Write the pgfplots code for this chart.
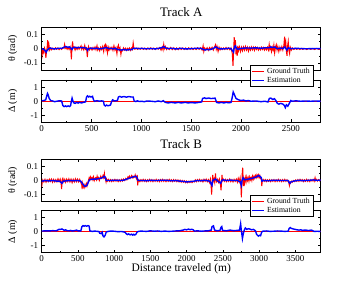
\documentclass[border=0pt]{standalone}
\usepackage{fontspec}
\setmainfont{Liberation Serif}
\usepackage{pgfplots}
\pgfplotsset{compat=1.18}

\pgfplotsset{
  panel/.style={
    scale only axis, width=279bp,
    xmin=0, ymin=-0.15, ymax=0.15,
    tick pos=both, tick align=inside,
    major tick length=3bp, minor tick length=1.6bp,
    minor x tick num=1, minor y tick num=1,
    axis line style={line width=0.6bp},
    every tick/.style={line width=0.5bp, black},
    tick label style={font=\fontsize{9}{10}\selectfont},
    /pgf/number format/assume math mode=true,
    /pgf/number format/set thousands separator={},
    label style={font=\fontsize{10}{11}\selectfont},
    ylabel style={at={(axis description cs:-0.104,0.5)}, anchor=center},
    title style={font=\fontsize{13}{14}\selectfont, at={(axis description cs:0.5,1)}, anchor=base, yshift=5bp},
    legend style={at={(0.974,0.12)}, anchor=north east, font=\fontsize{7.8}{8.5}\selectfont,
      draw=black, line width=0.5bp, inner xsep=1.5bp, inner ysep=0.5bp, row sep=-1.5bp,
      cells={anchor=west}, fill=white},
    legend image code/.code={\draw[#1, line width=1.1bp] (0bp,0bp) -- (12bp,0bp);},
  },
  thetapanel/.style={panel, ymin=-0.15, ymax=0.15, ytick={-0.1,0,0.1}, yticklabels={-0.1,0,0.1}, xticklabels={}, ylabel={θ (rad)}},
  deltapanel/.style={panel, ymin=-1.5, ymax=1.5, ytick={-1,0,1}, yticklabels={-1,0,1}, ylabel={Δ (m)}},
  gt/.style={red, line width=1bp},
  est/.style={blue, line width=1.4bp},
}

\begin{document}
\begin{tikzpicture}
\path[use as bounding box] (0,0) rectangle (363bp,281bp);

% ---------------- Track A, Delta ----------------
\begin{axis}[deltapanel, at={(41.7bp,158.5bp)}, anchor=south west, height=42.5bp,
  xmax=2800, xtick={0,500,1000,1500,2000,2500}]
\addplot[gt] coordinates {(0,0) (2800,0)};
\addplot[est] coordinates {
(0,0.03) (20,0.05) (40,0.1) (50,0.35) (58,0.55) (65,0.45) (75,0.2) (90,0.05) (110,0.02) (130,-0.03) (150,0.0) (175,0.03) (200,0.02) (212,-0.3) (225,-0.38) (240,-0.33) (250,-0.38) (265,-0.33) (280,-0.37) (290,-0.3) (298,0.0) (305,0.22) (312,0.05) (320,-0.1) (335,-0.15) (350,-0.08) (365,-0.13) (380,-0.08) (400,-0.12) (420,-0.07) (440,-0.05) (450,0.3) (460,0.38) (470,0.3) (480,0.35) (495,0.3) (510,0.35) (520,0.1) (530,0.0) (555,0.04) (580,0.0) (600,0.03) (620,0.0) (628,-0.28) (640,-0.33) (650,-0.27) (665,-0.32) (690,-0.27) (700,-0.05) (712,0.1) (730,0.02) (760,0.05) (770,0.3) (785,0.34) (800,0.29) (825,0.33) (850,0.29) (875,0.33) (900,0.3) (918,0.3) (928,0.02) (945,-0.02) (960,0.03) (980,-0.02) (1000,0.0) (1030,-0.03) (1060,0.02) (1100,0.0) (1140,-0.03) (1170,0.02) (1200,-0.03) (1220,0.04) (1240,-0.08) (1270,-0.12) (1300,-0.08) (1340,-0.12) (1370,-0.08) (1400,-0.12) (1440,-0.08) (1470,-0.12) (1500,-0.09) (1540,-0.12) (1580,-0.08) (1605,-0.05) (1615,0.2) (1635,0.24) (1650,0.19) (1675,0.23) (1700,0.19) (1740,0.22) (1755,-0.08) (1780,-0.12) (1800,-0.08) (1830,-0.12) (1850,-0.08) (1880,-0.11) (1900,-0.08) (1910,0.2) (1922,0.65) (1935,0.45) (1950,0.2) (1975,0.1) (2000,0.05) (2025,0.08) (2050,0.02) (2075,0.05) (2100,0.0) (2150,0.02) (2200,-0.03) (2240,0.0) (2270,-0.05) (2285,0.2) (2300,0.22) (2320,0.12) (2335,0.18) (2350,0.05) (2365,-0.15) (2380,-0.2) (2400,-0.15) (2420,-0.2) (2435,-0.3) (2445,-0.45) (2455,-0.25) (2470,-0.35) (2485,-0.15) (2500,0.05) (2510,0.0) (2550,0.03) (2600,0.0) (2650,0.02) (2700,0.0) (2750,0.02) (2800,0.0)
};
\end{axis}

% ---------------- Track A, theta ----------------
\begin{axis}[thetapanel, at={(41.7bp,211bp)}, anchor=south west, height=42.7bp,
  xmax=2800, xtick={0,500,1000,1500,2000,2500}, title={Track A}]
\addplot[gt] coordinates {
(0,-0.005) (5,-0.04) (10,-0.01) (20,-0.03) (28,0.005) (35,-0.01) (42,-0.065) (48,-0.02) (55,0.01) (60,0.06) (66,0.005) (72,0.03) (80,-0.01) (90,0.005) (100,-0.008) (112,0.004) (125,-0.006) (138,0.006) (150,-0.004) (162,0.005) (175,-0.007) (188,0.003) (200,-0.005) (212,0.006) (222,0.004) (230,0.03) (236,0.002) (245,0.012) (255,-0.004) (265,0.01) (275,-0.006) (285,0.012) (292,-0.01) (298,-0.075) (304,0.01) (310,0.05) (316,0.005) (325,0.012) (335,-0.01) (345,0.008) (355,-0.006) (365,0.01) (375,-0.004) (385,0.008) (395,0.02) (402,-0.005) (412,0.01) (422,-0.008) (432,0.022) (440,-0.004) (450,0.005) (458,-0.06) (464,-0.01) (470,0.015) (480,-0.008) (492,0.006) (505,-0.01) (515,0.008) (525,-0.005) (535,0.012) (545,-0.008) (555,0.02) (562,-0.01) (572,0.005) (582,-0.015) (592,0.01) (602,-0.006) (612,0.015) (622,-0.02) (630,0.02) (638,0.03) (645,-0.005) (652,0.015) (660,-0.03) (668,0.01) (676,-0.01) (685,0.008) (695,-0.006) (705,0.01) (715,-0.012) (725,0.02) (735,-0.01) (745,0.008) (755,-0.035) (762,0.01) (770,0.025) (778,-0.01) (786,0.005) (795,-0.04) (802,-0.01) (810,-0.015) (820,0.005) (830,-0.01) (840,0.003) (850,-0.012) (860,0.002) (870,-0.01) (880,0.004) (890,-0.012) (900,0.005) (910,-0.006) (918,0.04) (925,0.005) (935,-0.004) (948,0.004) (960,-0.005) (975,0.004) (990,-0.004) (1005,0.005) (1020,-0.005) (1035,0.004) (1050,-0.006) (1065,0.005) (1080,-0.004) (1095,0.006) (1110,-0.005) (1125,0.004) (1140,-0.006) (1155,0.005) (1170,-0.004) (1185,0.008) (1198,-0.01) (1210,0.012) (1218,-0.008) (1225,0.03) (1232,0.0) (1242,0.015) (1252,-0.006) (1265,0.006) (1280,-0.006) (1295,0.008) (1310,-0.007) (1325,0.006) (1340,-0.008) (1355,0.005) (1370,-0.007) (1385,0.006) (1400,-0.006) (1415,0.005) (1430,-0.006) (1445,0.005) (1460,-0.006) (1475,0.006) (1490,-0.005) (1505,0.005) (1520,-0.006) (1535,0.004) (1550,-0.006) (1565,0.006) (1580,-0.005) (1595,0.006) (1610,-0.01) (1620,0.02) (1627,-0.02) (1635,0.005) (1648,-0.008) (1660,0.006) (1672,-0.012) (1685,0.008) (1698,-0.006) (1710,0.01) (1722,-0.01) (1735,0.012) (1745,0.028) (1752,-0.005) (1760,0.015) (1770,-0.02) (1780,0.01) (1790,-0.008) (1800,0.006) (1812,-0.006) (1825,0.005) (1838,-0.006) (1850,0.008) (1862,-0.005) (1875,0.006) (1888,-0.008) (1900,0.005) (1912,-0.03) (1920,-0.12) (1926,-0.02) (1932,0.08) (1938,0.01) (1944,0.06) (1950,-0.04) (1956,0.01) (1962,-0.05) (1968,0.02) (1975,-0.015) (1985,0.012) (1995,-0.02) (2005,0.01) (2015,-0.015) (2025,0.012) (2035,-0.01) (2045,0.015) (2055,-0.01) (2065,0.01) (2075,-0.018) (2085,0.008) (2095,-0.01) (2105,0.012) (2115,-0.008) (2125,0.01) (2135,-0.012) (2145,0.01) (2155,-0.006) (2165,0.008) (2175,-0.01) (2185,0.006) (2195,-0.008) (2205,0.01) (2215,-0.006) (2225,0.008) (2235,-0.01) (2245,0.006) (2255,-0.008) (2265,0.01) (2275,-0.01) (2283,0.03) (2290,-0.005) (2298,0.012) (2306,-0.02) (2314,0.01) (2322,-0.01) (2330,0.025) (2338,-0.03) (2346,0.01) (2354,0.028) (2362,-0.01) (2370,0.015) (2380,-0.02) (2390,0.01) (2400,-0.01) (2410,0.015) (2420,-0.01) (2430,0.02) (2438,0.085) (2444,0.01) (2450,0.04) (2456,-0.02) (2462,-0.05) (2468,0.02) (2474,0.05) (2480,-0.01) (2488,-0.035) (2495,0.01) (2505,-0.01) (2515,0.005) (2530,-0.006) (2545,0.003) (2560,-0.005) (2575,0.002) (2590,-0.006) (2605,0.002) (2620,-0.005) (2640,0.002) (2660,-0.006) (2680,0.002) (2700,-0.005) (2720,0.001) (2740,-0.006) (2760,0.002) (2780,-0.005) (2800,-0.003)
};
\addlegendentry{Ground Truth}
\addplot[est] coordinates {
(0,0.0) (20,-0.005) (35,-0.015) (45,-0.025) (55,-0.01) (70,0.0) (85,0.004) (100,0.002) (125,-0.002) (150,0.0) (175,0.003) (200,0.002) (225,0.01) (240,0.015) (260,0.01) (280,0.012) (295,0.002) (305,-0.005) (315,0.008) (340,0.01) (355,0.005) (370,0.009) (400,0.006) (430,0.008) (450,0.002) (460,-0.012) (470,0.0) (500,0.004) (525,0.0) (550,0.004) (575,-0.002) (600,0.0) (630,0.005) (650,0.008) (670,0.0) (700,0.002) (720,-0.002) (740,0.003) (760,-0.006) (780,-0.008) (800,-0.01) (825,-0.006) (850,-0.01) (875,-0.007) (900,-0.008) (920,0.002) (950,0.003) (975,0.0) (1000,0.002) (1050,-0.001) (1100,0.001) (1140,-0.002) (1180,0.003) (1210,0.008) (1225,0.015) (1240,0.006) (1270,0.0) (1300,0.003) (1350,-0.002) (1400,0.002) (1450,-0.002) (1500,0.0) (1550,0.002) (1600,0.002) (1625,-0.006) (1640,-0.01) (1660,-0.005) (1680,-0.008) (1720,0.0) (1745,0.012) (1760,0.008) (1775,0.0) (1800,-0.002) (1850,0.0) (1880,0.003) (1900,0.0) (1915,-0.015) (1925,-0.025) (1935,0.015) (1945,0.02) (1955,0.0) (1970,-0.004) (2000,0.002) (2050,0.005) (2100,0.004) (2150,0.006) (2200,0.003) (2240,0.006) (2280,0.006) (2300,0.012) (2320,0.008) (2340,0.012) (2360,0.0) (2400,0.004) (2420,0.0) (2440,0.012) (2460,-0.01) (2475,0.006) (2500,0.0) (2550,0.002) (2600,0.001) (2650,-0.001) (2700,0.0) (2750,0.001) (2800,0.0)
};
\addlegendentry{Estimation}
\end{axis}

% ---------------- Track B, Delta ----------------
\begin{axis}[deltapanel, at={(41.7bp,28.5bp)}, anchor=south west, height=42bp,
  xmax=3850, xtick={0,500,1000,1500,2000,2500,3000,3500},
  xlabel={Distance traveled (m)},
  xlabel style={font=\fontsize{11.5}{12}\selectfont, at={(axis description cs:0.5,0)}, anchor=base, yshift=-19bp}]
\addplot[gt] coordinates {(0,0) (3850,0)};
\addplot[est] coordinates {
(0,0.03) (50,0.05) (100,0.04) (150,0.06) (200,0.05) (220,0.1) (240,0.16) (260,0.15) (280,0.18) (300,0.12) (315,0.08) (330,0.12) (350,0.06) (380,0.05) (400,0.08) (420,0.04) (450,0.06) (480,0.1) (500,0.05) (540,0.05) (555,0.35) (570,0.42) (585,0.38) (600,0.42) (620,0.38) (640,0.42) (655,0.38) (665,0.05) (700,0.0) (725,0.03) (750,0.02) (790,0.0) (800,-0.12) (820,-0.15) (835,-0.05) (845,-0.3) (860,-0.38) (875,-0.28) (890,-0.05) (910,0.0) (950,0.03) (1000,0.02) (1050,-0.01) (1100,0.0) (1150,-0.05) (1170,-0.18) (1185,-0.22) (1200,-0.17) (1220,-0.24) (1240,-0.19) (1255,-0.26) (1270,-0.2) (1285,-0.25) (1300,-0.2) (1315,-0.05) (1330,0.0) (1365,0.03) (1400,0.02) (1450,0.01) (1500,0.05) (1550,0.02) (1600,0.04) (1650,0.01) (1700,0.03) (1750,0.01) (1800,0.02) (1850,0.04) (1900,0.05) (1950,0.1) (1975,0.15) (2000,0.12) (2025,0.17) (2050,0.13) (2070,0.16) (2090,0.12) (2110,0.03) (2150,0.05) (2200,0.02) (2250,0.04) (2300,0.05) (2340,0.1) (2350,0.35) (2370,0.4) (2385,0.1) (2420,0.05) (2460,0.08) (2475,0.3) (2485,0.35) (2495,0.08) (2550,0.05) (2575,0.08) (2600,0.1) (2650,0.06) (2700,0.08) (2730,0.1) (2745,0.55) (2752,0.2) (2760,-0.1) (2770,-0.5) (2780,-0.2) (2795,0.1) (2810,0.25) (2830,0.15) (2850,0.2) (2870,0.18) (2895,0.12) (2920,0.15) (2950,0.05) (2965,-0.2) (2980,-0.28) (2990,-0.33) (3005,-0.27) (3020,-0.3) (3035,-0.05) (3050,0.02) (3100,0.04) (3150,0.01) (3200,0.02) (3250,0.04) (3300,0.03) (3350,0.01) (3400,0.02) (3415,0.22) (3430,0.28) (3445,0.22) (3460,0.2) (3480,0.17) (3500,0.15) (3525,0.12) (3550,0.1) (3575,0.12) (3600,0.08) (3625,0.1) (3650,0.1) (3675,0.07) (3700,0.08) (3720,0.1) (3740,0.06) (3760,0.0) (3800,0.02) (3850,0.0)
};
\end{axis}

% ---------------- Track B, theta ----------------
\begin{axis}[thetapanel, at={(41.7bp,79.3bp)}, anchor=south west, height=42.4bp,
  xmax=3850, xtick={0,500,1000,1500,2000,2500,3000,3500}, title={Track B},
  legend style={at={(0.974,0.16)}}]
\addplot[gt] coordinates {
(0,-0.045) (8,-0.01) (15,0.005) (30,-0.01) (45,0.008) (60,-0.012) (75,0.006) (90,-0.008) (105,0.01) (120,-0.006) (135,0.01) (150,-0.012) (165,0.008) (180,-0.01) (195,0.006) (210,-0.01) (225,0.012) (240,-0.008) (255,0.01) (268,-0.02) (275,-0.06) (282,0.005) (292,0.015) (305,-0.01) (318,0.008) (330,-0.012) (345,0.01) (360,-0.008) (375,0.012) (390,-0.01) (405,0.01) (420,-0.015) (435,0.008) (450,-0.01) (465,0.012) (480,-0.008) (495,0.01) (510,-0.01) (525,0.008) (540,-0.015) (552,-0.03) (558,-0.06) (565,-0.02) (575,-0.045) (585,-0.03) (595,-0.05) (605,-0.035) (615,-0.02) (625,-0.04) (635,-0.02) (645,0.0) (655,0.02) (665,0.005) (675,0.025) (685,0.01) (695,0.02) (705,0.005) (715,0.025) (725,0.0) (735,0.015) (745,0.02) (755,0.005) (765,0.03) (775,0.01) (785,0.02) (795,0.0) (805,0.015) (815,0.03) (825,0.015) (835,0.02) (845,0.035) (855,0.02) (865,0.05) (872,0.015) (880,0.01) (888,-0.01) (895,0.01) (905,-0.005) (920,0.008) (935,-0.006) (950,0.006) (965,-0.008) (980,0.005) (995,-0.006) (1010,0.008) (1025,-0.005) (1040,0.006) (1055,-0.008) (1070,0.005) (1085,-0.006) (1100,0.008) (1115,-0.004) (1130,0.01) (1145,0.0) (1160,0.015) (1175,0.005) (1190,0.025) (1200,0.015) (1210,0.03) (1220,0.015) (1230,0.025) (1240,0.035) (1250,0.02) (1260,0.03) (1270,0.02) (1280,0.025) (1290,0.04) (1300,0.02) (1310,0.01) (1318,0.04) (1324,-0.035) (1330,-0.01) (1340,0.005) (1355,-0.008) (1370,0.006) (1385,-0.006) (1400,0.008) (1415,-0.006) (1430,0.006) (1445,-0.008) (1460,0.005) (1475,-0.006) (1490,0.008) (1505,-0.006) (1520,0.006) (1535,-0.008) (1550,0.005) (1565,-0.006) (1580,0.008) (1595,-0.006) (1610,0.005) (1625,-0.008) (1640,0.006) (1655,-0.006) (1670,0.008) (1685,-0.006) (1700,0.005) (1715,-0.008) (1730,0.006) (1745,-0.006) (1760,0.008) (1775,-0.006) (1790,0.005) (1805,-0.008) (1820,0.006) (1835,-0.006) (1850,0.005) (1865,-0.008) (1880,0.004) (1895,-0.01) (1910,0.002) (1925,-0.012) (1940,0.0) (1955,-0.012) (1970,-0.002) (1985,-0.015) (2000,-0.004) (2015,-0.016) (2030,-0.005) (2045,-0.014) (2060,-0.004) (2075,-0.015) (2090,-0.005) (2105,-0.01) (2120,0.005) (2135,-0.008) (2150,0.006) (2165,-0.006) (2180,0.008) (2195,-0.006) (2210,0.005) (2225,-0.01) (2240,0.008) (2255,-0.006) (2270,0.01) (2285,-0.008) (2300,0.006) (2315,-0.015) (2328,0.01) (2338,-0.04) (2345,-0.1) (2352,-0.02) (2360,0.04) (2368,-0.005) (2378,0.01) (2388,-0.015) (2398,0.05) (2405,0.005) (2415,-0.01) (2428,0.008) (2440,-0.012) (2452,0.01) (2465,-0.02) (2475,-0.07) (2482,-0.01) (2488,0.04) (2495,0.0) (2505,0.01) (2520,-0.006) (2535,0.008) (2550,-0.008) (2565,0.006) (2580,-0.006) (2595,0.01) (2610,-0.008) (2625,0.006) (2640,-0.01) (2655,0.008) (2670,-0.006) (2685,0.01) (2700,-0.012) (2712,0.015) (2725,-0.01) (2738,0.02) (2748,-0.03) (2755,-0.12) (2762,-0.02) (2768,0.06) (2774,0.09) (2780,0.01) (2786,-0.04) (2792,0.02) (2800,-0.015) (2810,0.02) (2820,-0.01) (2830,0.025) (2840,0.0) (2850,0.02) (2860,-0.005) (2870,0.025) (2880,0.005) (2890,0.02) (2900,0.0) (2910,0.03) (2920,0.01) (2930,0.03) (2940,0.015) (2950,0.035) (2960,0.02) (2970,0.04) (2980,0.025) (2990,0.04) (3000,0.02) (3010,0.035) (3020,0.015) (3030,0.02) (3037,-0.04) (3045,0.0) (3055,0.008) (3070,-0.006) (3085,0.006) (3100,-0.008) (3115,0.005) (3130,-0.006) (3145,0.006) (3160,-0.008) (3175,0.005) (3190,-0.006) (3205,0.006) (3220,-0.008) (3235,0.005) (3250,-0.006) (3265,0.008) (3280,-0.006) (3295,0.005) (3310,-0.008) (3325,0.006) (3340,-0.006) (3355,0.008) (3370,-0.006) (3385,0.005) (3400,-0.006) (3410,-0.015) (3418,-0.035) (3425,-0.01) (3435,-0.018) (3448,-0.005) (3460,-0.012) (3475,0.0) (3490,-0.008) (3505,0.004) (3520,-0.006) (3535,0.006) (3550,-0.006) (3565,0.008) (3580,-0.004) (3595,0.006) (3610,-0.008) (3625,0.005) (3640,-0.006) (3655,0.008) (3670,-0.006) (3685,0.005) (3700,-0.008) (3715,0.006) (3730,-0.004) (3745,0.008) (3760,-0.006) (3772,0.02) (3780,0.0) (3790,0.008) (3805,-0.004) (3820,0.006) (3835,-0.003) (3850,0.004)
};
\addlegendentry{Ground Truth}
\addplot[est] coordinates {
(0,-0.005) (50,0.0) (100,-0.003) (150,0.0) (200,-0.004) (250,-0.005) (270,-0.015) (280,-0.02) (295,-0.005) (350,-0.002) (400,0.0) (450,-0.002) (500,0.0) (540,-0.005) (560,-0.02) (575,-0.03) (590,-0.04) (610,-0.04) (630,-0.03) (645,-0.01) (660,0.005) (700,0.01) (750,0.01) (800,0.015) (840,0.02) (860,0.03) (875,0.025) (890,0.0) (950,0.0) (1000,0.002) (1100,0.0) (1150,0.005) (1200,0.015) (1240,0.022) (1280,0.028) (1300,0.03) (1315,0.02) (1330,0.0) (1400,0.0) (1450,-0.002) (1500,0.002) (1550,0.0) (1600,0.0) (1650,0.002) (1700,0.002) (1750,0.0) (1800,-0.002) (1850,0.0) (1900,-0.004) (1950,-0.006) (2000,-0.01) (2050,-0.008) (2100,-0.005) (2150,0.0) (2200,-0.002) (2250,0.002) (2320,-0.005) (2340,-0.025) (2350,-0.035) (2360,0.0) (2400,0.01) (2420,0.0) (2470,-0.02) (2480,-0.005) (2500,0.005) (2550,0.0) (2600,0.003) (2650,0.0) (2700,0.0) (2740,-0.01) (2755,-0.035) (2765,0.0) (2780,0.02) (2800,0.005) (2850,0.01) (2900,0.015) (2930,0.02) (2960,0.025) (2990,0.035) (3010,0.03) (3030,0.02) (3040,-0.005) (3060,0.0) (3130,-0.002) (3200,0.002) (3300,0.0) (3400,0.0) (3415,-0.015) (3425,-0.02) (3440,-0.01) (3480,-0.004) (3550,0.002) (3600,-0.001) (3650,0.0) (3700,0.002) (3750,0.004) (3800,0.001) (3850,0.003)
};
\addlegendentry{Estimation}
\end{axis}
\end{tikzpicture}
\end{document}
